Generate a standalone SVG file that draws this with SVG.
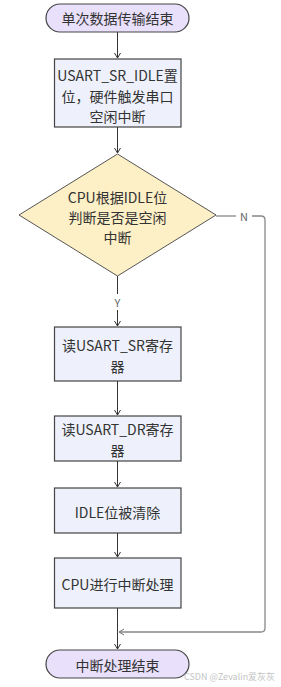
<svg xmlns="http://www.w3.org/2000/svg" width="281" height="687" viewBox="0 0 281 687">
<style>
text{font-family:"Noto Sans CJK SC","Noto Sans",sans-serif;font-size:14px;fill:#333;text-anchor:middle;dominant-baseline:central}
.term{fill:#E9E0FC;stroke:#444;stroke-width:1.2}
.box{fill:#EEF1FB;stroke:#444;stroke-width:1.2}
.dia{fill:#FDEFC6;stroke:#555;stroke-width:1}
.ln{fill:none;stroke:#333;stroke-width:1}
.lg{fill:none;stroke:#888;stroke-width:1.3}
.lbl{font-size:11px;fill:#666}
.wm{font-size:9px;fill:#c4c4c4;text-anchor:start}
</style>
<defs>
<marker id="arr" markerWidth="8" markerHeight="8" refX="6" refY="4" orient="auto" markerUnits="userSpaceOnUse">
<path d="M1,1 L6,4 L1,7" fill="none" stroke="#333" stroke-width="1"/>
</marker>
<marker id="arrg" markerWidth="8" markerHeight="8" refX="6" refY="4" orient="auto" markerUnits="userSpaceOnUse">
<path d="M1,1 L6,4 L1,7" fill="none" stroke="#777" stroke-width="1"/>
</marker>
</defs>
<g id="connectors">
<line class="ln" x1="117.5" y1="32" x2="117.5" y2="58" marker-end="url(#arr)"/>
<line class="ln" x1="117.5" y1="127" x2="117.5" y2="153" marker-end="url(#arr)"/>
<line class="ln" x1="117.5" y1="276" x2="117.5" y2="294"/>
<text class="lbl" x="117.5" y="302">Y</text>
<line class="ln" x1="117.5" y1="310" x2="117.5" y2="326" marker-end="url(#arr)"/>
<line class="ln" x1="117.5" y1="381" x2="117.5" y2="415" marker-end="url(#arr)"/>
<line class="ln" x1="117.5" y1="461" x2="117.5" y2="487" marker-end="url(#arr)"/>
<line class="ln" x1="117.5" y1="533" x2="117.5" y2="557" marker-end="url(#arr)"/>
<line class="ln" x1="117.5" y1="608" x2="117.5" y2="649" marker-end="url(#arr)"/>
<line class="lg" x1="216" y1="216" x2="236" y2="216"/>
<text class="lbl" x="244" y="216">N</text>
<path class="lg" d="M252,216 L261,216 Q265,216 265,220 L265,628 Q265,632 261,632 L119,632" marker-end="url(#arrg)"/>
</g>
<g id="start">
<rect class="term" x="46" y="4" width="143" height="28" rx="14"/>
<text x="117.5" y="18">单次数据传输结束</text>
</g>
<g id="idle-set">
<rect class="box" x="54.5" y="59" width="126.5" height="68"/>
<text x="117.5" y="75">USART_SR_IDLE置</text>
<text x="117.5" y="96">位，硬件触发串口</text>
<text x="117.5" y="116">空闲中断</text>
</g>
<g id="decision">
<polygon class="dia" points="117.5,154 216,215 117.5,276 19,215"/>
<text x="117.5" y="197">CPU根据IDLE位</text>
<text x="117.5" y="217">判断是否是空闲</text>
<text x="117.5" y="237">中断</text>
</g>
<g id="read-sr">
<rect class="box" x="54.5" y="327" width="126.5" height="54"/>
<text x="117.5" y="345">读USART_SR寄存</text>
<text x="117.5" y="366">器</text>
</g>
<g id="read-dr">
<rect class="box" x="54.5" y="416" width="126.5" height="45"/>
<text x="117.5" y="429">读USART_DR寄存</text>
<text x="117.5" y="450">器</text>
</g>
<g id="idle-clear">
<rect class="box" x="54.5" y="488" width="126.5" height="45"/>
<text x="117.5" y="512">IDLE位被清除</text>
</g>
<g id="cpu-handle">
<rect class="box" x="54.5" y="558" width="126.5" height="50"/>
<text x="117.5" y="584">CPU进行中断处理</text>
</g>
<g id="end">
<rect class="term" x="46" y="650" width="143" height="28" rx="14"/>
<text x="117.5" y="665">中断处理结束</text>
</g>
<text class="wm" x="184" y="676" textLength="91" lengthAdjust="spacingAndGlyphs">CSDN @Zevalin爱灰灰</text>
</svg>
